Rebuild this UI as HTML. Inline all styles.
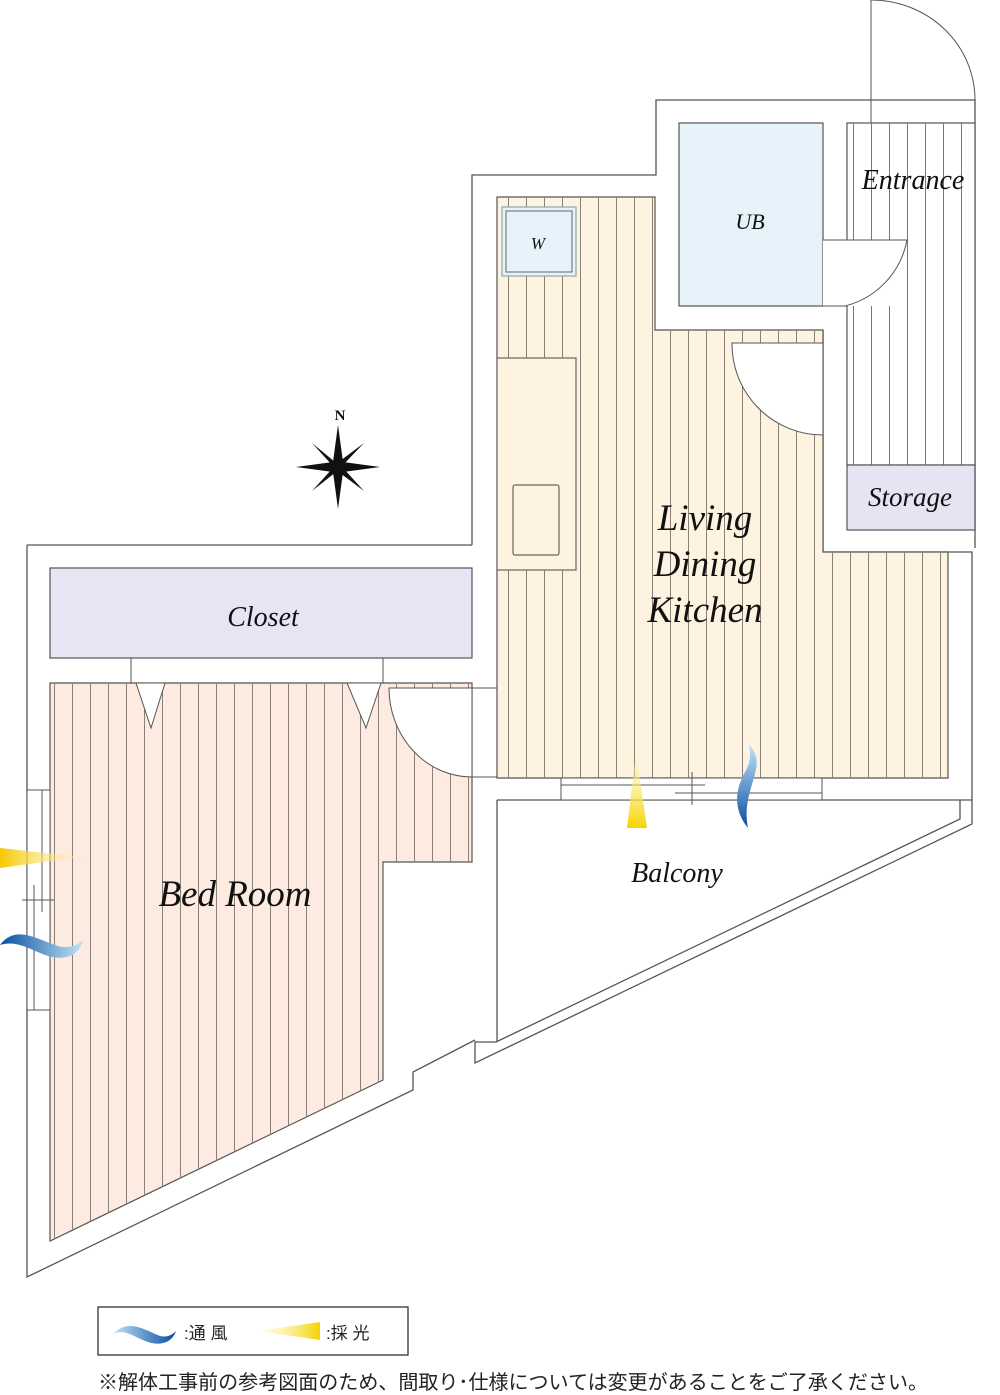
<!DOCTYPE html>
<html><head><meta charset="utf-8"><style>
html,body{margin:0;padding:0;background:#fff;}
svg{display:block;}
.lbl{font-family:"Liberation Serif",serif;font-style:italic;fill:#111;}
</style></head><body>
<svg width="1000" height="1395" viewBox="0 0 1000 1395" xmlns="http://www.w3.org/2000/svg">
<defs>
<pattern id="hl" width="18" height="10" patternUnits="userSpaceOnUse" x="0"><line x1="0.5" y1="0" x2="0.5" y2="10" stroke="#8a8078" stroke-width="1"/></pattern>
<pattern id="hl2" width="18" height="10" patternUnits="userSpaceOnUse" x="4"><line x1="0.5" y1="0" x2="0.5" y2="10" stroke="#8a8078" stroke-width="1"/></pattern>
<pattern id="he" width="18" height="10" patternUnits="userSpaceOnUse" x="7"><line x1="0.5" y1="0" x2="0.5" y2="10" stroke="#777" stroke-width="1"/></pattern>
<linearGradient id="yv" x1="0" y1="1" x2="0" y2="0"><stop offset="0" stop-color="#f5d400"/><stop offset="1" stop-color="#fff6c0" stop-opacity="0.3"/></linearGradient>
<linearGradient id="yh" x1="0" y1="0" x2="1" y2="0"><stop offset="0" stop-color="#f5c800"/><stop offset="1" stop-color="#fff6c0" stop-opacity="0.3"/></linearGradient>
<linearGradient id="bv" x1="0" y1="0" x2="0" y2="1"><stop offset="0" stop-color="#bfe3f8"/><stop offset="1" stop-color="#0a4ea0"/></linearGradient>
<linearGradient id="bh" x1="0" y1="0" x2="1" y2="0"><stop offset="0" stop-color="#0a4ea0"/><stop offset="1" stop-color="#bfe3f8"/></linearGradient>
<linearGradient id="bh2" x1="0" y1="0" x2="1" y2="0"><stop offset="0" stop-color="#bfe3f8"/><stop offset="1" stop-color="#0a4ea0"/></linearGradient>
<linearGradient id="yh2" x1="0" y1="0" x2="1" y2="0"><stop offset="0" stop-color="#fff6c0" stop-opacity="0.3"/><stop offset="1" stop-color="#f5d400"/></linearGradient>
</defs>
<g stroke="#555" stroke-width="1.3" fill="none">
<!-- outer walls -->
<polyline points="472,545 472,175 656,175 656,100 975,100 975,548"/>
<polyline points="27,545 472,545"/>
<polyline points="27,545 27,1277 413,1090 413,1072 475,1040"/>
<polyline points="823,330 823,552 972,552 972,800"/>
<polyline points="497,800 972,800 972,824 475,1063 475,1042 496,1042 960,819 960,800"/>
<line x1="497" y1="800" x2="497" y2="1042"/>
</g>
<!-- LDK floor -->
<polygon points="497,197 655,197 655,330 823,330 823,552 948,552 948,778 497,778" fill="#fdf3e0" stroke="#555" stroke-width="1.2"/>
<polygon points="497,197 655,197 655,330 823,330 823,552 948,552 948,778 497,778" fill="url(#hl2)"/>
<!-- kitchen counter -->
<rect x="497" y="358" width="79" height="212" fill="#fdf3e0" stroke="#666" stroke-width="1.2"/>
<rect x="513" y="485" width="46" height="70" fill="none" stroke="#666" stroke-width="1.2" rx="2"/>
<!-- W -->
<rect x="502" y="207" width="74" height="69" fill="#e7f3fb" stroke="#8aa" stroke-width="1.2"/>
<rect x="506" y="211" width="66" height="61" fill="none" stroke="#666" stroke-width="1"/>
<!-- UB -->
<rect x="679" y="123" width="144" height="183" fill="#e6f3fb" stroke="#555" stroke-width="1.2"/>
<!-- Entrance -->
<rect x="847" y="123" width="128" height="342" fill="#fff" stroke="#555" stroke-width="1.2"/>
<rect x="847" y="123" width="128" height="342" fill="url(#he)"/>
<rect x="847" y="465" width="128" height="65" fill="#e6e4f2" stroke="#555" stroke-width="1.2"/>
<!-- doors -->
<rect x="823" y="240" width="84" height="66" fill="#fff"/>
<path d="M823,240 H907 A84,84 0 0 1 845,306" fill="none" stroke="#555" stroke-width="1"/>
<line x1="823" y1="306" x2="847" y2="306" stroke="#555" stroke-width="1"/>
<path d="M823,343 H732 A91,91 0 0 0 823,435 Z" fill="#fff" stroke="#555" stroke-width="1"/>
<line x1="871" y1="0" x2="871" y2="123" stroke="#555" stroke-width="1"/>
<path d="M871,0 A104,100 0 0 1 975,100" fill="none" stroke="#555" stroke-width="1"/>
<!-- Closet -->
<rect x="50" y="568" width="422" height="90" fill="#e6e5f3" stroke="#555" stroke-width="1.2"/>
<!-- Bedroom -->
<polygon points="50,683 472,683 472,862 383,862 383,1080 50,1241" fill="#fdeae0" stroke="#555" stroke-width="1.2"/>
<polygon points="50,683 472,683 472,862 383,862 383,1080 50,1241" fill="url(#hl)"/>
<g stroke="#555" stroke-width="1" fill="#fff">
<line x1="131" y1="658" x2="131" y2="683"/><line x1="383" y1="658" x2="383" y2="683"/>
<polygon points="136,683 165,683 151,728"/>
<polygon points="347,683 381,683 366,728"/>
</g>
<path d="M472,688 H389 A83,89 0 0 0 472,777 Z" fill="#fff" stroke="#555" stroke-width="1"/>
<line x1="472" y1="688" x2="497" y2="688" stroke="#555" stroke-width="1"/>
<line x1="472" y1="777" x2="497" y2="777" stroke="#555" stroke-width="1"/>
<!-- left window -->
<g stroke="#555" stroke-width="1" fill="none">
<rect x="27" y="790" width="23" height="220" fill="#fff"/>
<line x1="42" y1="790" x2="42" y2="912"/><line x1="34" y1="885" x2="34" y2="1010"/>
<line x1="22" y1="900" x2="54" y2="900"/>
<!-- LDK window -->
<rect x="561" y="778" width="261" height="22" fill="#fff"/>
<line x1="561" y1="785" x2="705" y2="785"/><line x1="675" y1="793" x2="822" y2="793"/>
<line x1="692" y1="772" x2="692" y2="805"/>
</g>
<!-- light & wind -->
<polygon points="636,752 627,828 647,828" fill="url(#yv)"/>
<path d="M749,745 C770,765 740,790 748,828 C733,810 735,790 745,772 C752,760 750,752 749,745 Z" fill="url(#bv)"/>
<polygon points="0,848 0,868 82,857" fill="url(#yh)"/>
<path d="M0,945 C15,925 35,938 55,945 C68,950 78,945 83,940 C80,955 65,962 45,955 C28,948 15,940 0,945 Z" fill="url(#bh)"/>
<!-- compass -->
<g transform="translate(338,467)">
<polygon points="0,-42 5,-5 0,0 -5,-5" fill="#111"/>
<polygon points="0,42 5,5 0,0 -5,5" fill="#111"/>
<polygon points="-42,0 -5,-5 0,0 -5,5" fill="#111"/>
<polygon points="42,0 5,5 0,0 5,-5" fill="#111"/>
<polygon points="-26,-24 -3,-5 0,0 -6,-2" fill="#111"/>
<polygon points="26,-24 5,-2 0,0 2,-6" fill="#111"/>
<polygon points="-26,24 -2,5 0,0 -6,2" fill="#111"/>
<polygon points="26,24 6,2 0,0 2,6" fill="#111"/>
</g>
<text x="340" y="420" class="lbl" style="font-style:normal;font-weight:bold" font-size="15" text-anchor="middle">N</text>
<!-- labels -->
<text x="538" y="249" class="lbl" font-size="17" text-anchor="middle">W</text>
<text x="750" y="229" class="lbl" font-size="22" text-anchor="middle">UB</text>
<text x="913" y="189" class="lbl" font-size="28" text-anchor="middle">Entrance</text>
<text x="910" y="506" class="lbl" font-size="27" text-anchor="middle">Storage</text>
<text x="705" y="530" class="lbl" font-size="37" text-anchor="middle">Living</text>
<text x="705" y="576" class="lbl" font-size="37" text-anchor="middle">Dining</text>
<text x="705" y="622" class="lbl" font-size="37" text-anchor="middle">Kitchen</text>
<text x="263" y="626" class="lbl" font-size="28" text-anchor="middle">Closet</text>
<text x="235" y="906" class="lbl" font-size="37" text-anchor="middle">Bed Room</text>
<text x="677" y="882" class="lbl" font-size="28" text-anchor="middle">Balcony</text>
<!-- legend -->
<rect x="98" y="1307" width="310" height="48" fill="#fff" stroke="#333" stroke-width="1.3"/>
<path d="M113,1334 C128,1318 145,1330 160,1336 C168,1338 173,1334 176,1331 C172,1343 160,1346 148,1342 C135,1338 125,1328 113,1334 Z" fill="url(#bh2)"/>
<text x="184" y="1339" font-family="'Liberation Sans','Noto Sans CJK JP',sans-serif" font-size="17" fill="#222">:通 風</text>
<polygon points="258,1331 320,1322 320,1340" fill="url(#yh2)"/>
<text x="326" y="1339" font-family="'Liberation Sans','Noto Sans CJK JP',sans-serif" font-size="17" fill="#222">:採 光</text>
<text x="98" y="1389" font-family="'Liberation Sans','Noto Sans CJK JP',sans-serif" font-size="20" fill="#222" textLength="830" lengthAdjust="spacingAndGlyphs">※解体工事前の参考図面のため、間取り･仕様については変更があることをご了承ください。</text>
</svg>
</body></html>
